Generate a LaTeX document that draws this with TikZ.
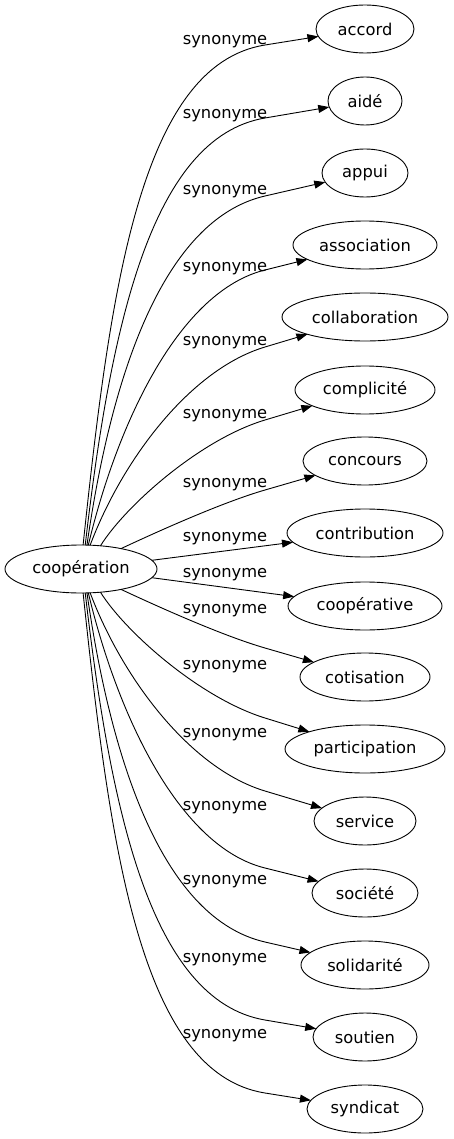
\documentclass[tikz,border=0pt]{standalone}
\usepackage{fontspec}
\newfontfamily\dejavu{DejaVu Sans}
\usetikzlibrary{shapes.geometric,arrows.meta}
\tikzset{
  word/.style={draw, ellipse, line width=0.9pt, inner sep=0pt, outer sep=0pt,
    minimum height=48pt, font=\dejavu\fontsize{16.3}{19}\selectfont},
  edge/.style={line width=0.9pt, -{Triangle[length=11pt,width=8pt]}},
  lbl/.style={anchor=base, inner sep=0pt, font=\dejavu\fontsize{16.3}{19}\selectfont}
}
\begin{document}
\begin{tikzpicture}[x=1pt,y=-1pt]
\useasboundingbox (0,0) rectangle (453,1139);
% nodes
\node[word, minimum width=152pt] (coop) at (81,569) {coopération};
\node[word, minimum width=98pt]  (accord) at (365,29) {accord};
\node[word, minimum width=74pt]  (aide) at (365,101) {aidé};
\node[word, minimum width=86pt]  (appui) at (365,173) {appui};
\node[word, minimum width=144pt] (association) at (365,245) {association};
\node[word, minimum width=166pt] (collaboration) at (365,317) {collaboration};
\node[word, minimum width=140pt] (complicite) at (365,390) {complicité};
\node[word, minimum width=124pt] (concours) at (365,461) {concours};
\node[word, minimum width=156pt] (contribution) at (365,533) {contribution};
\node[word, minimum width=154pt] (cooperative) at (365,606) {coopérative};
\node[word, minimum width=130pt] (cotisation) at (365,677) {cotisation};
\node[word, minimum width=160pt] (participation) at (365,749) {participation};
\node[word, minimum width=102pt] (service) at (365,821) {service};
\node[word, minimum width=106pt] (societe) at (365,893) {société};
\node[word, minimum width=128pt] (solidarite) at (365,965) {solidarité};
\node[word, minimum width=104pt] (soutien) at (365,1037) {soutien};
\node[word, minimum width=116pt] (syndicat) at (365,1109) {syndicat};
% bend points
\coordinate (k1) at (265,45);
\coordinate (k2) at (265,118);
\coordinate (k3) at (265,196);
\coordinate (k4) at (265,270);
\coordinate (k5) at (265,347);
\coordinate (k6) at (265,420);
\coordinate (k7) at (265,490);
\coordinate (k10) at (265,648);
\coordinate (k11) at (265,718);
\coordinate (k12) at (265,791);
\coordinate (k13) at (265,868);
\coordinate (k14) at (265,942);
\coordinate (k15) at (265,1020);
\coordinate (k16) at (265,1093);
% edges, upper half
\draw[edge] (coop.85.2) .. controls +(27,-255) and +(-125,20) .. (k1) -- (accord);
\draw[edge] (coop.80.5) .. controls +(25,-215) and +(-115,19.5) .. (k2) -- (aide);
\draw[edge] (coop.76) .. controls +(25,-175) and +(-100,23) .. (k3) -- (appui);
\draw[edge] (coop.73.7) .. controls +(30,-125) and +(-85,21) .. (k4) -- (association);
\draw[edge] (coop.69.3) .. controls +(32,-85) and +(-75,22.5) .. (k5) -- (collaboration);
\draw[edge] (coop.50.7) .. controls +(25,-40) and +(-65,19.5) .. (k6) -- (complicite);
\draw[edge] (coop.27.8) .. controls +(30,-14) and +(-45,13) .. (k7) -- (concours);
\draw[edge] (coop.7) -- (contribution);
% edges, lower half
\draw[edge] (coop.-7) -- (cooperative);
\draw[edge] (coop.-27.8) .. controls +(30,14) and +(-45,-13) .. (k10) -- (cotisation);
\draw[edge] (coop.-50.7) .. controls +(25,40) and +(-65,-20) .. (k11) -- (participation);
\draw[edge] (coop.-69.3) .. controls +(32,85) and +(-75,-22.5) .. (k12) -- (service);
\draw[edge] (coop.-73.7) .. controls +(30,125) and +(-85,-21) .. (k13) -- (societe);
\draw[edge] (coop.-76) .. controls +(25,175) and +(-100,-23) .. (k14) -- (solidarite);
\draw[edge] (coop.-80.5) .. controls +(25,215) and +(-115,-19.5) .. (k15) -- (soutien);
\draw[edge] (coop.-85.2) .. controls +(27,255) and +(-125,-20) .. (k16) -- (syndicat);
% labels
\node[lbl] (l1) at (225,44.5) {synonyme};
\node[lbl] (l2) at (225,118.5) {synonyme};
\node[lbl] (l3) at (225,194.5) {synonyme};
\node[lbl] (l4) at (225,271.5) {synonyme};
\node[lbl] (l5) at (225,345.5) {synonyme};
\node[lbl] (l6) at (225,418.5) {synonyme};
\node[lbl] (l7) at (225,487.5) {synonyme};
\node[lbl] (l8) at (225,541.5) {synonyme};
\node[lbl] (l9) at (225,577.5) {synonyme};
\node[lbl] (l10) at (225,613.5) {synonyme};
\node[lbl] (l11) at (225,669.5) {synonyme};
\node[lbl] (l12) at (225,737.5) {synonyme};
\node[lbl] (l13) at (225,810.5) {synonyme};
\node[lbl] (l14) at (225,884.5) {synonyme};
\node[lbl] (l15) at (225,962.5) {synonyme};
\node[lbl] (l16) at (225,1038.5) {synonyme};
\end{tikzpicture}
\end{document}
